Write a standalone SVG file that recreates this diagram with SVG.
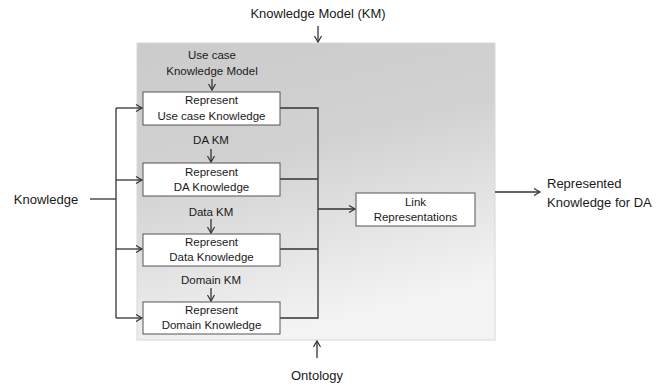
<svg xmlns="http://www.w3.org/2000/svg" width="665" height="385" viewBox="0 0 665 385">
<style>
.t{font-family:"Liberation Sans",Arial,sans-serif;fill:#1a1a1a;text-anchor:middle}
.big{font-size:13px}
.sm{font-size:11.5px}
.box{fill:#fff;stroke:#555;stroke-width:1}
.ln{fill:none;stroke:#333;stroke-width:1.3}
</style>
<defs>
<linearGradient id="g" x1="0" y1="0" x2="0.3" y2="1">
<stop offset="0" stop-color="#cbcbcb"/>
<stop offset="0.45" stop-color="#d2d2d2"/>
<stop offset="1" stop-color="#f3f3f3"/>
</linearGradient>
<marker id="a" markerWidth="10" markerHeight="10" refX="8" refY="5" orient="auto" markerUnits="userSpaceOnUse">
<path d="M2,1.5 L8,5 L2,8.5" fill="none" stroke="#333" stroke-width="1.2"/>
</marker>
</defs>
<g id="container">
<rect x="137" y="43" width="358" height="297" fill="url(#g)" stroke="#d8d8d8" stroke-width="1"/>
</g>
<g id="connectors">
<path class="ln" d="M318,26 V42" marker-end="url(#a)"/>
<path class="ln" d="M317,358 V341" marker-end="url(#a)"/>
<path class="ln" d="M90,199 H116"/>
<path class="ln" d="M116,108 V318"/>
<path class="ln" d="M116,108 H142" marker-end="url(#a)"/>
<path class="ln" d="M116,180 H142" marker-end="url(#a)"/>
<path class="ln" d="M116,249 H142" marker-end="url(#a)"/>
<path class="ln" d="M116,318 H142" marker-end="url(#a)"/>
<path class="ln" d="M280,108 H318 V318 H280"/>
<path class="ln" d="M280,179 H318"/>
<path class="ln" d="M280,249 H318"/>
<path class="ln" d="M318,209 H355" marker-end="url(#a)"/>
<path class="ln" d="M495,192 H540" marker-end="url(#a)"/>
<path class="ln" d="M212,79 V90" marker-end="url(#a)"/>
<path class="ln" d="M211,149 V162" marker-end="url(#a)"/>
<path class="ln" d="M211,219 V233" marker-end="url(#a)"/>
<path class="ln" d="M211,288 V301" marker-end="url(#a)"/>
</g>
<g id="labels">
<text class="t big" x="318" y="18">Knowledge Model (KM)</text>
<text class="t big" x="317" y="380">Ontology</text>
<text class="t big" x="46" y="204">Knowledge</text>
<text class="t big" x="547" y="188" style="text-anchor:start">Represented</text>
<text class="t big" x="547" y="207" style="text-anchor:start">Knowledge for DA</text>
<text class="t sm" x="212" y="59">Use case</text>
<text class="t sm" x="212" y="75">Knowledge Model</text>
<text class="t sm" x="211" y="144">DA KM</text>
<text class="t sm" x="211" y="216">Data KM</text>
<text class="t sm" x="211" y="284">Domain KM</text>
</g>
<g id="n-usecase">
<rect class="box" x="143" y="92" width="137" height="33"/>
<text class="t sm" x="211.5" y="104">Represent</text>
<text class="t sm" x="211.5" y="120">Use case Knowledge</text>
</g>
<g id="n-da">
<rect class="box" x="143" y="163" width="137" height="33"/>
<text class="t sm" x="211.5" y="176">Represent</text>
<text class="t sm" x="211.5" y="191">DA Knowledge</text>
</g>
<g id="n-data">
<rect class="box" x="143" y="234" width="137" height="32"/>
<text class="t sm" x="211.5" y="246">Represent</text>
<text class="t sm" x="211.5" y="261">Data Knowledge</text>
</g>
<g id="n-domain">
<rect class="box" x="143" y="302" width="137" height="32"/>
<text class="t sm" x="211.5" y="314">Represent</text>
<text class="t sm" x="211.5" y="329">Domain Knowledge</text>
</g>
<g id="n-link">
<rect class="box" x="356" y="193" width="119" height="33"/>
<text class="t sm" x="415.5" y="206">Link</text>
<text class="t sm" x="415.5" y="221">Representations</text>
</g>
</svg>
